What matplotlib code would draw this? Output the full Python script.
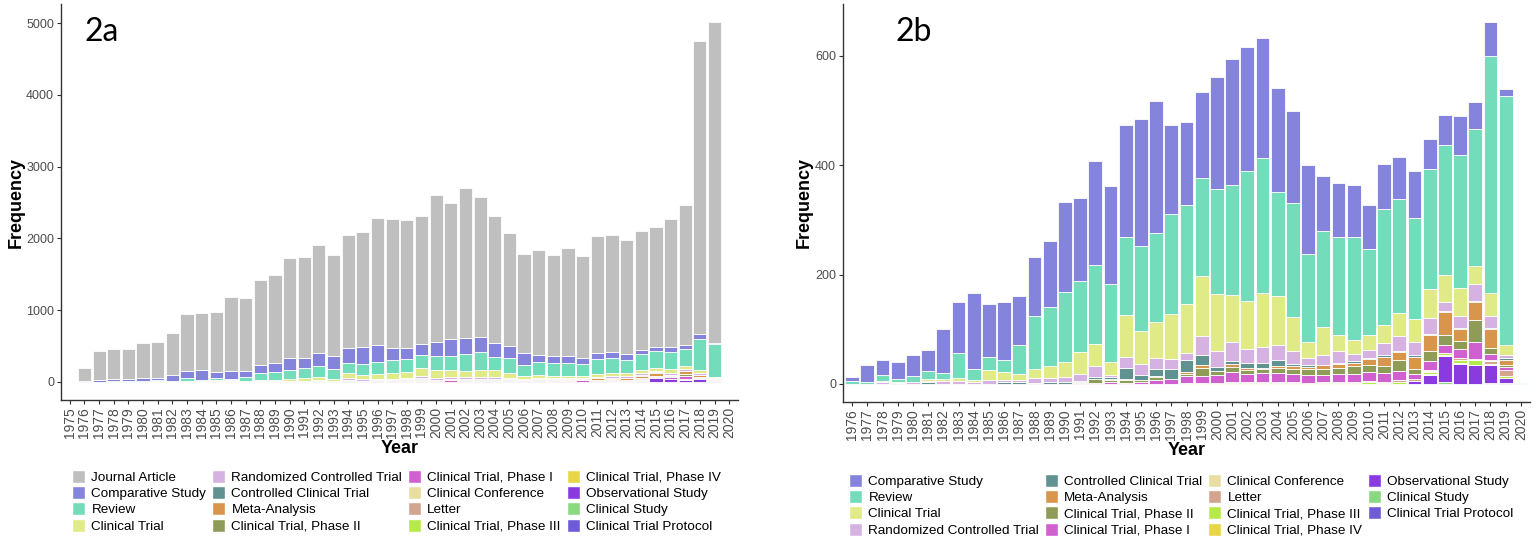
import numpy as np
import matplotlib.pyplot as plt
import matplotlib.transforms as mtransforms
from matplotlib.patches import Patch

plt.rcParams['font.family'] = ['Liberation Sans', 'DejaVu Sans']

# publication years
years_a = list(range(1975, 2021))
years_b = list(range(1976, 2021))

# counts per publication type, 1976-2020
comparative = [7, 31, 27, 31, 38, 38, 81, 93, 139, 97,
               106, 88, 107, 120, 163, 152, 191, 181, 205, 232,
               241, 163, 152, 158, 206, 230, 227, 218, 190, 169,
               162, 100, 98, 95, 82, 83, 76, 86, 55, 54,
               72, 50, 62, 13, 0]
review = [5, 3, 11, 5, 11, 15, 11, 46, 20, 23,
          22, 53, 97, 109, 129, 131, 144, 141, 142, 157,
          164, 183, 181, 180, 191, 201, 239, 247, 191, 209,
          161, 176, 180, 188, 157, 213, 210, 184, 220, 239,
          243, 250, 433, 456, 1]
clinical_trial = [0, 0, 3, 2, 0, 4, 4, 5, 3, 18,
                  13, 11, 17, 21, 27, 40, 40, 24, 76, 59,
                  66, 82, 89, 109, 104, 87, 88, 99, 89, 61,
                  29, 52, 28, 27, 27, 33, 42, 42, 53, 50,
                  50, 34, 42, 18, 0]
rct = [0, 0, 3, 0, 3, 2, 5, 5, 4, 8,
       4, 4, 9, 8, 9, 12, 20, 5, 21, 20,
       20, 18, 13, 35, 30, 34, 24, 30, 29, 24,
       14, 17, 23, 12, 14, 22, 27, 24, 29, 15,
       22, 31, 23, 6, 0]
cct = [0, 0, 0, 2, 0, 3, 0, 0, 0, 0,
       4, 4, 2, 3, 4, 2, 4, 3, 20, 10,
       13, 18, 23, 18, 7, 5, 10, 8, 11, 5,
       3, 1, 2, 3, 2, 2, 2, 3, 2, 2,
       2, 2, 2, 4, 0]
meta = [0, 0, 0, 0, 0, 0, 0, 0, 0, 0,
        0, 0, 0, 0, 0, 0, 0, 1, 2, 0,
        2, 0, 2, 5, 1, 6, 3, 2, 3, 5,
        3, 7, 6, 6, 12, 18, 15, 23, 30, 43,
        22, 32, 34, 9, 0]
phase2 = [0, 0, 0, 0, 0, 0, 0, 0, 0, 0,
          0, 0, 0, 0, 0, 2, 7, 5, 5, 3,
          5, 0, 5, 16, 7, 10, 8, 8, 9, 8,
          12, 11, 12, 15, 13, 12, 20, 8, 18, 17,
          16, 40, 12, 3, 0]
phase1 = [0, 0, 0, 0, 0, 0, 0, 0, 0, 0,
          0, 0, 0, 0, 0, 2, 2, 3, 2, 4,
          7, 9, 12, 12, 14, 17, 15, 16, 16, 15,
          14, 12, 14, 14, 15, 17, 15, 10, 17, 15,
          15, 31, 11, 5, 0]
conference = [0, 0, 0, 0, 0, 0, 0, 0, 0, 0,
              0, 0, 0, 0, 0, 0, 0, 0, 0, 0,
              0, 0, 0, 0, 0, 0, 0, 0, 0, 0,
              0, 0, 0, 0, 0, 0, 0, 0, 1, 0,
              1, 0, 1, 0, 0]
letter = [0, 0, 0, 0, 0, 0, 0, 0, 0, 0,
          0, 0, 0, 0, 0, 0, 0, 0, 0, 0,
          0, 0, 0, 0, 1, 2, 1, 2, 2, 2,
          1, 2, 2, 2, 2, 1, 4, 3, 2, 1,
          4, 3, 6, 11, 0]
phase3 = [0, 0, 0, 0, 0, 0, 0, 0, 0, 0,
          0, 0, 0, 0, 0, 0, 0, 0, 0, 0,
          0, 0, 2, 2, 1, 2, 2, 2, 2, 2,
          1, 2, 2, 2, 4, 2, 4, 1, 4, 4,
          5, 8, 1, 4, 0]
phase4 = [0, 0, 0, 0, 0, 0, 0, 0, 0, 0,
          0, 0, 0, 0, 0, 0, 0, 0, 0, 0,
          0, 0, 0, 0, 0, 0, 0, 0, 0, 0,
          0, 0, 0, 0, 0, 0, 0, 0, 1, 1,
          1, 1, 0, 1, 0]
observational = [0, 0, 0, 0, 0, 0, 0, 0, 0, 0,
                 0, 0, 0, 0, 0, 0, 0, 0, 0, 0,
                 0, 0, 0, 0, 0, 0, 0, 0, 0, 0,
                 0, 0, 0, 0, 0, 0, 0, 5, 17, 47,
                 37, 34, 33, 8, 0]
clinical_study = [0, 0, 0, 0, 0, 0, 0, 0, 0, 0,
                  0, 0, 0, 0, 0, 0, 0, 0, 0, 0,
                  0, 0, 0, 0, 0, 0, 0, 0, 0, 0,
                  0, 0, 0, 0, 0, 0, 0, 0, 0, 4,
                  0, 0, 2, 1, 0]
protocol = [0, 0, 0, 0, 0, 0, 0, 0, 0, 0,
            0, 0, 0, 0, 0, 0, 0, 0, 0, 0,
            0, 0, 0, 0, 0, 0, 0, 0, 0, 0,
            0, 0, 0, 0, 0, 0, 0, 0, 0, 0,
            0, 0, 0, 1, 0]

# journal articles, 1975-2020
journal_article = [5, 178, 393, 415, 419, 491, 499, 581, 802, 794,
                   828, 1034, 1004, 1183, 1229, 1393, 1403, 1494, 1399, 1568,
                   1607, 1769, 1795, 1780, 1775, 2045, 1901, 2082, 1947, 1768,
                   1582, 1386, 1457, 1405, 1500, 1430, 1633, 1635, 1582, 1652,
                   1669, 1783, 1956, 4087, 4474, 2]

types = [
    ('Comparative Study', comparative, '#8484dc'),
    ('Review', review, '#73dcbb'),
    ('Clinical Trial', clinical_trial, '#e0ea86'),
    ('Randomized Controlled Trial', rct, '#d6b2e2'),
    ('Controlled Clinical Trial', cct, '#5f9290'),
    ('Meta-Analysis', meta, '#d8964c'),
    ('Clinical Trial, Phase II', phase2, '#8f9c58'),
    ('Clinical Trial, Phase I', phase1, '#d05fd0'),
    ('Clinical Conference', conference, '#e8dea2'),
    ('Letter', letter, '#d4a58e'),
    ('Clinical Trial, Phase III', phase3, '#b6ea4a'),
    ('Clinical Trial, Phase IV', phase4, '#e8d646'),
    ('Observational Study', observational, '#893be0'),
    ('Clinical Study', clinical_study, '#8ad87f'),
    ('Clinical Trial Protocol', protocol, '#6d5bd8'),
]

series_a = [('Journal Article', journal_article, '#bfbfbf')] + \
           [(name, [0] + vals, col) for name, vals, col in types]
series_b = types

W, H = 1535, 536
fig = plt.figure(figsize=(W / 100, H / 100), dpi=100)
ax_a = fig.add_axes([61 / W, 136 / H, 677 / W, 396 / H])
ax_b = fig.add_axes([843 / W, 134 / H, 687 / W, 398 / H])

tick_grey = '#4d4d4d'
axis_col = '#333333'


def draw_panel(ax, years, series, tag, tag_x, yticks, ylab_x, legend_top, legend_dx):
    x = np.arange(len(years))
    bottom = np.zeros(len(years))
    # first entry ends up on top of the stack
    for name, values, color in reversed(series):
        vals = np.array(values, dtype=float)
        keep = vals > 0
        ax.bar(x[keep], vals[keep], width=0.9, bottom=bottom[keep],
               color=color, edgecolor='white', linewidth=0.6)
        bottom += vals
    top = bottom.max()
    ax.set_ylim(-0.05 * top, 1.05 * top)
    ax.set_xlim(-0.6, len(years) - 0.4)

    ax.set_xticks(x)
    ax.set_xticklabels([str(y) for y in years], rotation=90,
                       fontsize=10, color=tick_grey)
    shift = mtransforms.ScaledTranslation(4 / 100, 0, fig.dpi_scale_trans)
    for lbl in ax.get_xticklabels():
        lbl.set_transform(lbl.get_transform() + shift)
    ax.set_yticks(yticks)
    ax.set_yticklabels([str(v) for v in yticks], fontsize=9, color=tick_grey)
    ax.tick_params(axis='both', length=3, width=0.8, color=axis_col, pad=2)

    for side in ('top', 'right'):
        ax.spines[side].set_visible(False)
    for side in ('left', 'bottom'):
        ax.spines[side].set_color(axis_col)
        ax.spines[side].set_linewidth(1.0)

    ax.set_ylabel('Frequency', fontsize=13, fontweight='bold')
    ax.yaxis.set_label_coords(ylab_x, 0.5)
    ax.set_xlabel('Year', fontsize=13, fontweight='bold')
    ax.xaxis.set_label_coords(0.5, -0.1)

    ax.text(tag_x, 0.93, tag, transform=ax.transAxes, fontsize=23,
            family=['Lato', 'DejaVu Sans'], va='center', ha='left')

    handles = [Patch(facecolor=c, edgecolor='white', label=n) for n, _, c in series]
    bb = ax.get_position()
    fig.legend(handles=handles, loc='upper center', ncol=4,
               bbox_to_anchor=(bb.x0 + bb.width / 2 + legend_dx / W, 1 - legend_top / H),
               frameon=False, fontsize=9.7, borderpad=0,
               handlelength=0.96, handleheight=1.1, handletextpad=0.45,
               columnspacing=0.45, labelspacing=0.17)


draw_panel(ax_a, years_a, series_a, '2a', 0.035,
           [0, 1000, 2000, 3000, 4000, 5000], -0.053, 463, -3)
draw_panel(ax_b, years_b, series_b, '2b', 0.076,
           [0, 200, 400, 600], -0.044, 467, -5)

fig.savefig('out.png', dpi=100)
